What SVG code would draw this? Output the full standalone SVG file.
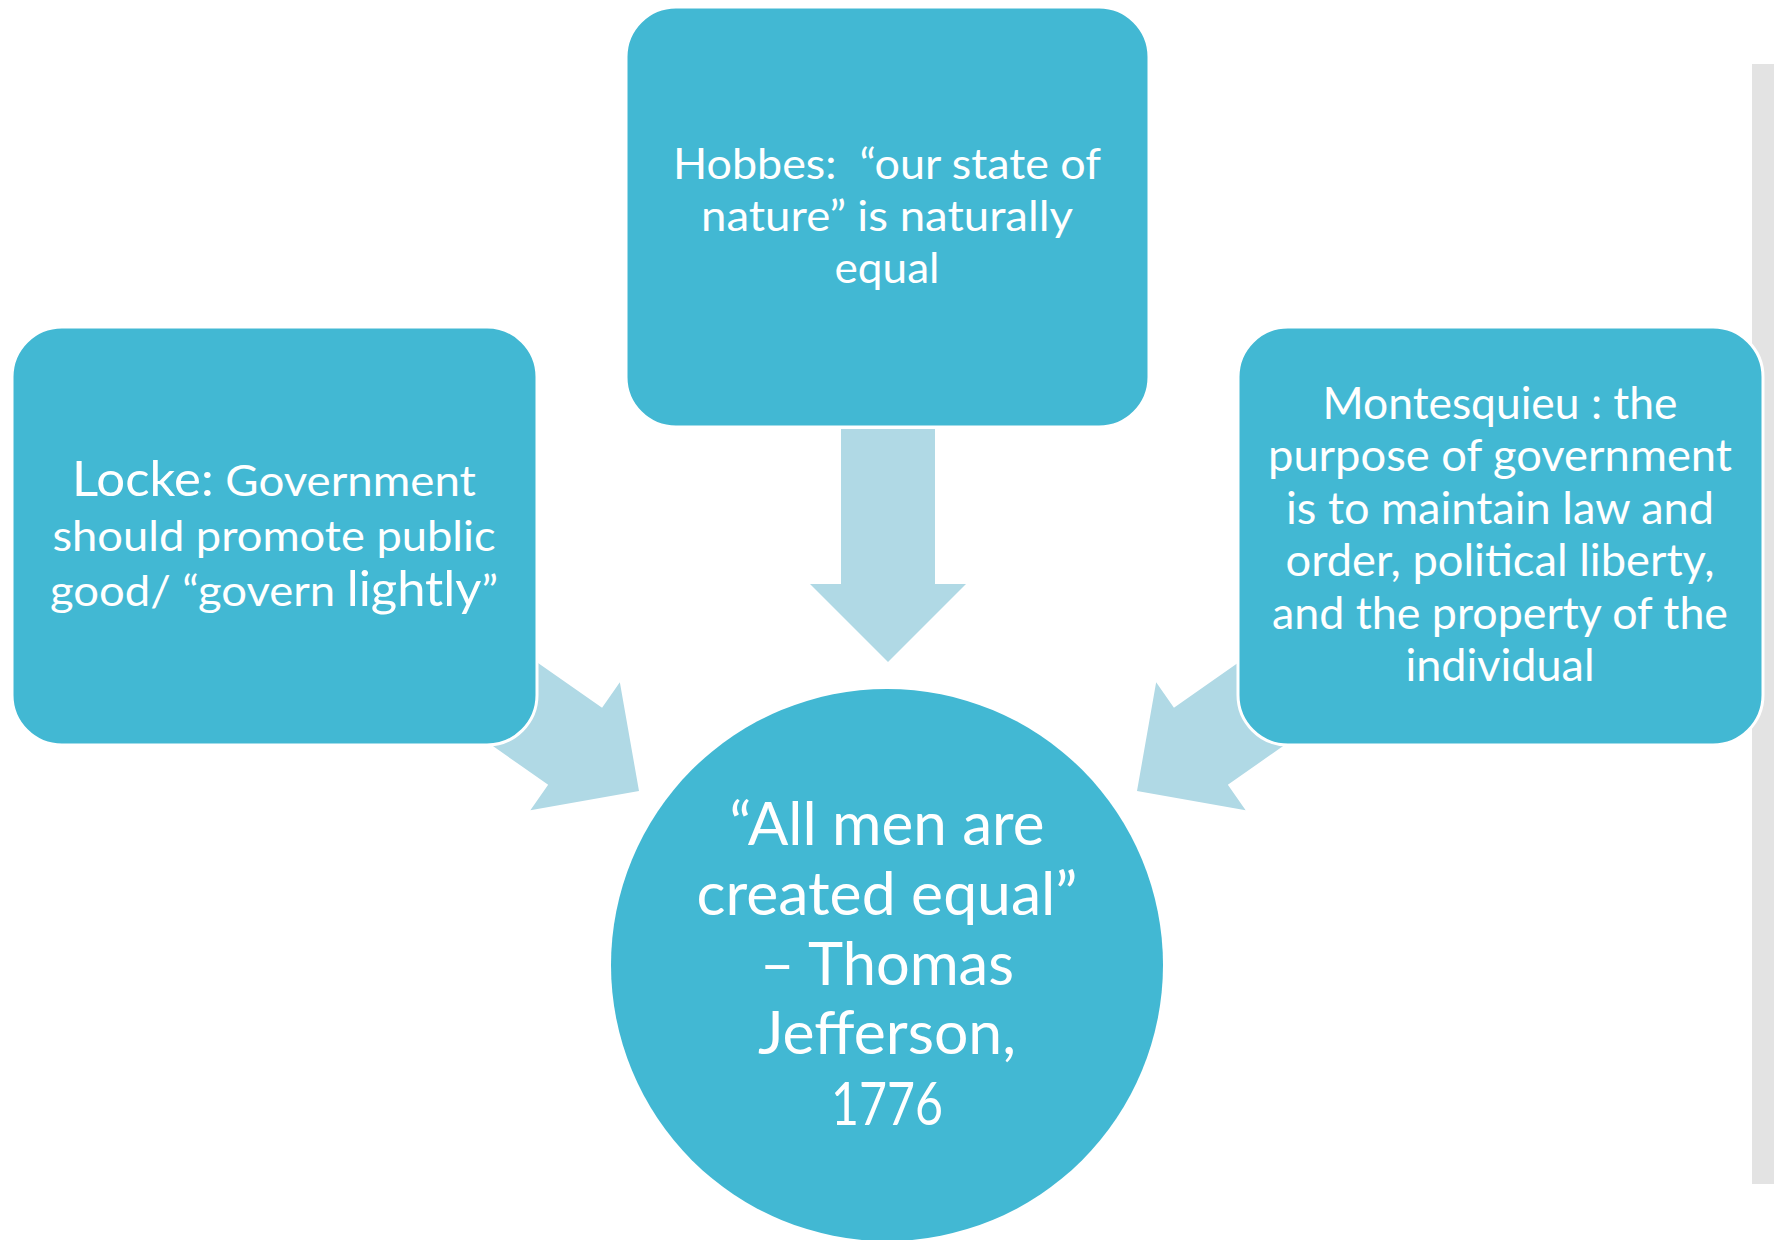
<svg xmlns="http://www.w3.org/2000/svg" width="1774" height="1240" viewBox="0 0 1774 1240">
<defs>
<style>
.box{fill:#42B8D3;stroke:#FFFFFF;stroke-width:3}
.arrow{fill:#B0D9E5}
.t{font-family:"Lato","Open Sans","Liberation Sans",sans-serif;fill:#FFFFFF;text-anchor:middle}
.s{font-size:43px}
.m{font-size:44px}
.c{font-size:60px}
</style>
<path id="arr" d="M -233 -47 L -78 -47 L -78 -78 L 0 0 L -78 78 L -78 47 L -233 47 Z"/>
</defs>
<rect x="1752" y="64" width="22" height="1120" fill="#E3E3E3"/>
<g id="connectors">
<path class="arrow" d="M 841 429 H 935 V 584 H 966 L 888 662 L 810 584 H 841 Z"/>
<use href="#arr" class="arrow" transform="translate(639,791) rotate(35)"/>
<use href="#arr" class="arrow" transform="translate(1137,791) rotate(145)"/>
</g>
<g id="hobbes">
<rect class="box" x="626" y="7" width="523" height="420" rx="50" ry="50"/>
<text class="t s" x="887" y="179" textLength="428" lengthAdjust="spacingAndGlyphs">Hobbes:&#160; “our state of</text>
<text class="t s" x="887" y="231" textLength="372" lengthAdjust="spacingAndGlyphs">nature” is naturally</text>
<text class="t s" x="887" y="283" textLength="105" lengthAdjust="spacingAndGlyphs">equal</text>
</g>
<g id="locke">
<rect class="box" x="12" y="327" width="525" height="418" rx="50" ry="50"/>
<text class="t s" x="274" y="496" textLength="404" lengthAdjust="spacingAndGlyphs"><tspan font-size="48">Locke:</tspan> Government</text>
<text class="t s" x="274" y="551" textLength="443" lengthAdjust="spacingAndGlyphs">should promote public</text>
<text class="t s" x="274" y="606" textLength="448" lengthAdjust="spacingAndGlyphs">good/ “govern <tspan font-size="48">lightly</tspan>”</text>
</g>
<g id="montesquieu">
<rect class="box" x="1238" y="327" width="525" height="418" rx="50" ry="50"/>
<text class="t m" x="1500" y="419" textLength="355" lengthAdjust="spacingAndGlyphs">Montesquieu : the</text>
<text class="t m" x="1500" y="471" textLength="464" lengthAdjust="spacingAndGlyphs">purpose of government</text>
<text class="t m" x="1500" y="524" textLength="428" lengthAdjust="spacingAndGlyphs">is to maintain law and</text>
<text class="t m" x="1500" y="576" textLength="429" lengthAdjust="spacingAndGlyphs">order, political liberty,</text>
<text class="t m" x="1500" y="629" textLength="456" lengthAdjust="spacingAndGlyphs">and the property of the</text>
<text class="t m" x="1500" y="681" textLength="189" lengthAdjust="spacingAndGlyphs">individual</text>
</g>
<g id="jefferson">
<circle cx="887" cy="965" r="276" fill="#42B8D3"/>
<text class="t c" x="887" y="845" textLength="315" lengthAdjust="spacingAndGlyphs">“All men are</text>
<text class="t c" x="887" y="915" textLength="381" lengthAdjust="spacingAndGlyphs">created equal”</text>
<text class="t c" x="887" y="985" textLength="254" lengthAdjust="spacingAndGlyphs">– Thomas</text>
<text class="t c" x="887" y="1054" textLength="258" lengthAdjust="spacingAndGlyphs">Jefferson,</text>
<text class="t c" x="887" y="1125" textLength="112" lengthAdjust="spacingAndGlyphs">1776</text>
</g>
</svg>
